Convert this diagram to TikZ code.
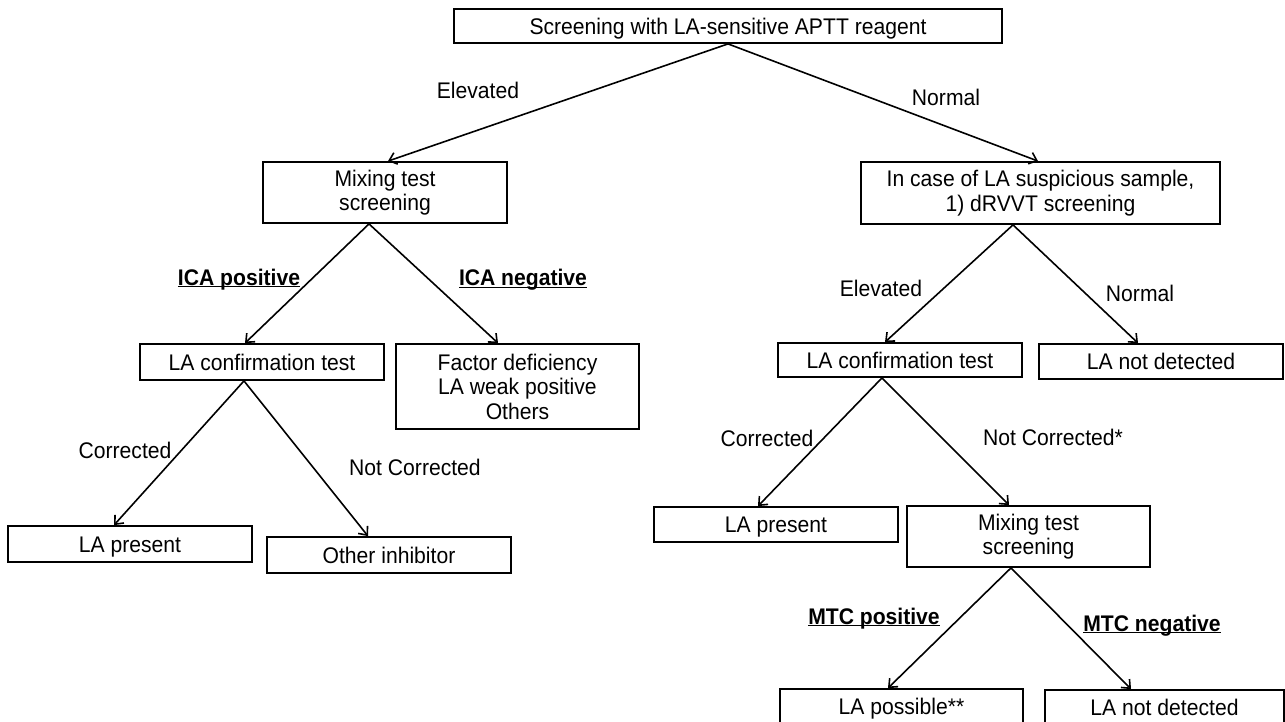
\documentclass[tikz,border=0pt]{standalone}
\usepackage{fontspec}
\setmainfont{Liberation Sans}[FakeStretch=0.935]
\usetikzlibrary{arrows.meta}
\newcommand\fnt{\fontsize{22.6}{24.5}\selectfont}
\newcommand\myul[1]{\setbox0\hbox{#1}\rlap{\rule[-2.4pt]{\wd0}{1.4pt}}\box0}
\begin{document}
\begin{tikzpicture}[x=1pt,y=-1pt,
  bx/.style={draw, line width=1.8pt, inner sep=0pt, align=center, font=\fnt},
  one/.style={text height=16.2pt, text depth=0pt},
  lbl/.style={inner sep=0pt, font=\fnt},
  ulbl/.style={inner sep=0pt, font=\fnt\bfseries, anchor=base},
  arr/.style={line width=1.6pt, -{Straight Barb[length=7pt,width=12pt]}}]
\fill[white] (0,0) rectangle (1285,721);
\useasboundingbox (0,0) rectangle (1285,721);

% boxes
\node[bx, one, minimum width=548pt, minimum height=34pt] (T) at (728,26) {Screening with LA-sensitive APTT reagent};
\node[bx, minimum width=244pt, minimum height=61pt] (M1) at (385,192.5) {Mixing test\\screening};
\node[bx, minimum width=359pt, minimum height=62pt] (R) at (1040.5,193) {In case of LA suspicious sample,\\1) dRVVT screening};
\node[bx, one, minimum width=244pt, minimum height=36pt] (L1) at (262,362) {LA confirmation test};
\node[bx, minimum width=243pt, minimum height=85pt] (F) at (517.5,386.5) {Factor deficiency\\LA weak positive\\Others};
\node[bx, one, minimum width=244pt, minimum height=36pt] (P1) at (130,544) {LA present};
\node[bx, one, minimum width=244pt, minimum height=36pt] (O1) at (389,555) {Other inhibitor};
\node[bx, one, minimum width=244pt, minimum height=34pt] (L2) at (900,360) {LA confirmation test};
\node[bx, one, minimum width=244pt, minimum height=35pt] (N1) at (1161,361.5) {LA not detected};
\node[bx, one, minimum width=244pt, minimum height=35pt] (P2) at (776,524.5) {LA present};
\node[bx, minimum width=243pt, minimum height=61pt] (M2) at (1028.5,536.5) {Mixing test\\screening};
\node[bx, one, minimum width=243pt, minimum height=35pt] (P3) at (901.5,706.5) {LA possible**};
\node[bx, one, minimum width=239pt, minimum height=35pt] (N2) at (1164.5,707.5) {LA not detected};

% connectors
\draw[arr] (T.south) -- ([xshift=3pt]M1.north);
\draw[arr] (T.south) -- ([xshift=-2.5pt]R.north);
\draw[arr] ([xshift=-16pt]M1.south) -- ([xshift=-17pt]L1.north);
\draw[arr] ([xshift=-16pt]M1.south) -- ([xshift=-19.5pt]F.north);
\draw[arr] ([xshift=-18pt]L1.south) -- ([xshift=-16pt]P1.north);
\draw[arr] ([xshift=-18pt]L1.south) -- ([xshift=-21pt]O1.north);
\draw[arr] ([xshift=-27.5pt]R.south) -- ([xshift=-15pt]L2.north);
\draw[arr] ([xshift=-27.5pt]R.south) -- ([xshift=-23pt]N1.north);
\draw[arr] ([xshift=-18pt]L2.south) -- ([xshift=-18pt]P2.north);
\draw[arr] ([xshift=-18pt]L2.south) -- ([xshift=-19.5pt]M2.north);
\draw[arr] ([xshift=-17.5pt]M2.south) -- ([xshift=-13.5pt]P3.north);
\draw[arr] ([xshift=-17.5pt]M2.south) -- ([xshift=-33.5pt]N2.north);

% labels
\node[lbl] (e1) at (478,90) {Elevated};
\node[lbl] (n1) at (946,97) {Normal};
\node[ulbl] (ip) at (239,285) {\myul{ICA positive}};
\node[ulbl] (in) at (523,285.5) {\myul{ICA negative}};
\node[lbl] (c1) at (125,450) {Corrected};
\node[lbl] (nc1) at (415,467) {Not Corrected};
\node[lbl] (e2) at (881,288) {Elevated};
\node[lbl] (n2) at (1140,293) {Normal};
\node[lbl] (c2) at (767,438) {Corrected};
\node[lbl] (nc2) at (1053,437) {Not Corrected*};
\node[ulbl] (mp) at (874,624) {\myul{MTC positive}};
\node[ulbl] (mn) at (1152,631) {\myul{MTC negative}};
\end{tikzpicture}
\end{document}
